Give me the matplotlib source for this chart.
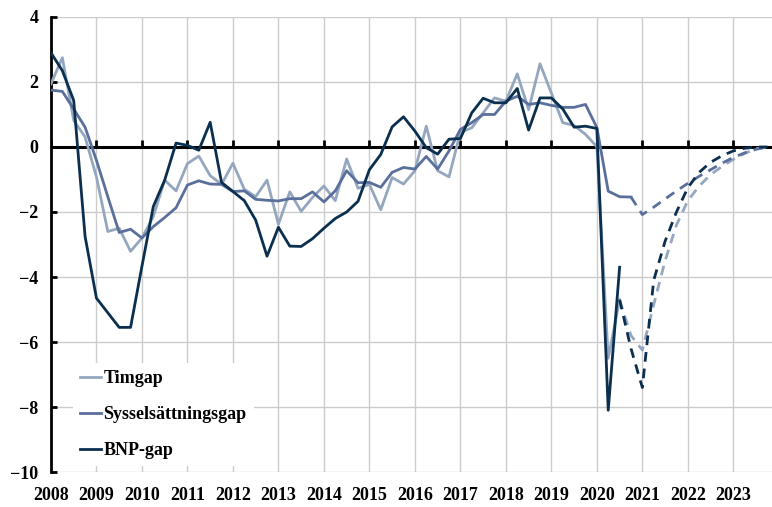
import matplotlib
matplotlib.use('Agg')
import matplotlib.pyplot as plt
import numpy as np

# quarterly gaps, 2008Q1 onwards (percent)
timgap = [1.94, 2.75, 0.82, 0.31,
          -0.92, -2.6, -2.5, -3.21,
          -2.8, -2.14, -1.02, -1.35,
          -0.51, -0.28, -0.88, -1.15,
          -0.5, -1.3, -1.53, -1.02,
          -2.38, -1.38, -1.98, -1.55,
          -1.2, -1.65, -0.37, -1.27,
          -1.15, -1.93, -0.94, -1.14,
          -0.73, 0.64, -0.73, -0.92,
          0.45, 0.59, 1.05, 1.51,
          1.41, 2.25, 1.15, 2.56,
          1.66, 0.75, 0.66, 0.39,
          0.01, -6.5, -4.7]
syss_gap = [1.75, 1.71, 1.17, 0.61,
            -0.41, -1.53, -2.63, -2.53,
            -2.8, -2.45, -2.17, -1.87,
            -1.17, -1.04, -1.14, -1.15,
            -1.37, -1.35, -1.61, -1.64,
            -1.66, -1.59, -1.59, -1.38,
            -1.69, -1.35, -0.73, -1.1,
            -1.09, -1.24, -0.78, -0.63,
            -0.68, -0.29, -0.68, -0.12,
            0.54, 0.75, 1.0, 1.0,
            1.41, 1.56, 1.31, 1.36,
            1.28, 1.22, 1.22, 1.31,
            0.6, -1.36, -1.53, -1.54]
bnp_gap = [2.9, 2.35, 1.43, -2.75,
           -4.65, -5.1, -5.55, -5.55,
           -3.67, -1.83, -1.02, 0.12,
           0.05, -0.1, 0.76, -1.09,
           -1.37, -1.65, -2.25, -3.36,
           -2.47, -3.05, -3.06, -2.82,
           -2.5, -2.2, -2.0, -1.67,
           -0.7, -0.23, 0.62, 0.93,
           0.49, -0.02, -0.22, 0.24,
           0.26, 1.05, 1.5, 1.36,
           1.36, 1.8, 0.52, 1.51,
           1.51, 1.17, 0.61, 0.64,
           0.57, -8.1, -3.7]

# forecasts: Timgap and BNP-gap from 2020Q3, Sysselsättningsgap from 2020Q4
timgap_fc = [-4.7, -5.8, -6.25, -4.85, -3.5, -2.4, -1.65, -1.2, -0.85, -0.6,
             -0.38, -0.2, -0.05, 0.0]
syss_fc = [-1.54, -2.08, -1.85, -1.6, -1.35, -1.12, -0.9, -0.7, -0.5, -0.32,
           -0.18, -0.07, 0.0]
bnp_fc = [-4.7, -6.2, -7.4, -4.1, -2.9, -2.0, -1.25, -0.78, -0.47, -0.27,
          -0.12, -0.04, 0.0, 0.0]

labels = ['Timgap', 'Sysselsättningsgap', 'BNP-gap']
colors = ['#94a7bf', '#5a6f9b', '#0b2f4f']
years = list(range(2008, 2024))


def quarters(start, n):
    return start + np.arange(n) / 4


def main():
    plt.rcParams['font.family'] = ['Liberation Serif', 'DejaVu Serif']
    plt.rcParams['font.weight'] = 'bold'

    fig = plt.figure(figsize=(7.72, 5.07), dpi=100)
    ax = fig.add_axes([0.066, 0.069, 0.934, 0.8975])

    series = [(timgap, timgap_fc, 2020.5),
              (syss_gap, syss_fc, 2020.75),
              (bnp_gap, bnp_fc, 2020.5)]
    for (hist, fc, fc_start), label, color in zip(series, labels, colors):
        ax.plot(quarters(2008, len(hist)), hist, color=color, lw=2, label=label, zorder=3)
        ax.plot(quarters(fc_start, len(fc)), fc, color=color, lw=2,
                linestyle=(0, (3.5, 2.5)), zorder=3)

    ax.set_xlim(2008, 2023.85)
    ax.set_ylim(-10, 4)
    ax.set_xticks(years)
    ax.set_xticklabels([str(y) for y in years])
    ax.set_yticks(range(-10, 5, 2))
    ax.grid(True, color='#cccccc', lw=1)
    ax.set_axisbelow(True)

    for side in ['top', 'right', 'bottom']:
        ax.spines[side].set_visible(False)
    ax.spines['left'].set_linewidth(2)
    ax.tick_params(axis='y', direction='in', length=4, width=2, pad=9, labelsize=13)
    ax.tick_params(axis='x', length=0, pad=11, labelsize=13)

    # zero line with small year ticks pointing up
    ax.axhline(0, color='black', lw=2.2, zorder=2.5)
    ax.plot(years, np.zeros(len(years)), linestyle='none', marker=2, markersize=5,
            mew=2, color='black', zorder=2.5)

    leg = ax.legend(loc='lower left', bbox_to_anchor=(0.03, 0.013), borderaxespad=0,
                    frameon=True, fancybox=False, edgecolor='none', framealpha=1,
                    fontsize=13, handlelength=1.2, handletextpad=0.1,
                    labelspacing=1.05, borderpad=0.4)
    leg.set_zorder(5)

    fig.savefig('out.png', dpi=100)


if __name__ == '__main__':
    main()
